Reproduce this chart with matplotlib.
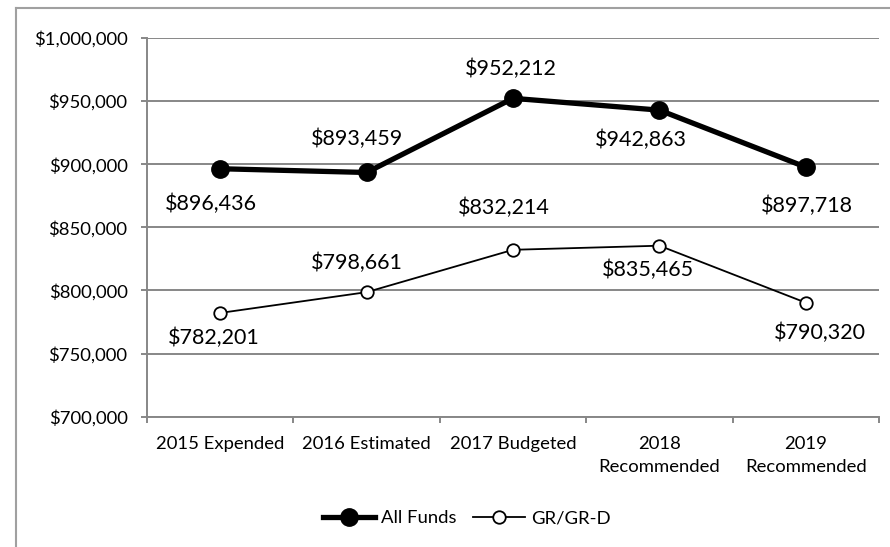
import matplotlib
matplotlib.use('Agg')
import matplotlib.pyplot as plt
from matplotlib.lines import Line2D
from matplotlib.ticker import FuncFormatter

plt.rcParams['font.family'] = ['Lato', 'DejaVu Sans']

categories = ['2015 Expended', '2016 Estimated', '2017 Budgeted',
              '2018\nRecommended', '2019\nRecommended']
all_funds = [896436, 893459, 952212, 942863, 897718]
gr_grd = [782201, 798661, 832214, 835465, 790320]

# label offsets in pixels (dx, dy) relative to each point
all_funds_offsets = [(-9, -35), (-10, 34), (-2, 29), (-18, -30), (1, -39)]
gr_grd_offsets = [(-6, -25), (-10, 29), (-9, 42), (-11, -24), (14, -30)]

W, H = 890, 547
fig = plt.figure(figsize=(W / 100, H / 100), dpi=100)
ax = fig.add_axes([147 / W, 1 - 416.7 / H, (879 - 147) / W, (416.7 - 38) / H])

grid_color = '#878787'
x = list(range(len(categories)))

ax.plot(x, all_funds, color='black', linewidth=3.8, marker='o',
        markersize=12.5, label='All Funds', zorder=3)
ax.plot(x, gr_grd, color='black', linewidth=1.3, marker='o', markersize=9,
        markerfacecolor='white', markeredgewidth=1.3, label='GR/GR-D', zorder=3)

px = 0.72
for xi, v, (dx, dy) in zip(x, all_funds, all_funds_offsets):
    ax.annotate('${:,}'.format(v), (xi, v), xytext=(dx * px, dy * px),
                textcoords='offset points', ha='center', va='center', fontsize=15.5)
for xi, v, (dx, dy) in zip(x, gr_grd, gr_grd_offsets):
    ax.annotate('${:,}'.format(v), (xi, v), xytext=(dx * px, dy * px),
                textcoords='offset points', ha='center', va='center', fontsize=15.5)

ax.set_xlim(-0.5, len(categories) - 0.5)
ax.set_ylim(700000, 1000000)
ax.set_yticks(range(700000, 1000001, 50000))
ax.yaxis.set_major_formatter(FuncFormatter(lambda v, p: '${:,.0f}'.format(v)))
ax.grid(axis='y', color=grid_color, linewidth=1.4, zorder=0)
ax.set_axisbelow(True)

ax.set_xticks(x)
ax.set_xticklabels(categories, fontsize=13.3, linespacing=1.55)
ax.set_xticks([i - 0.5 for i in range(len(categories) + 1)], minor=True)
ax.tick_params(axis='x', which='major', length=0, pad=14)
ax.tick_params(axis='x', which='minor', length=4.5, width=1.4, color=grid_color)
ax.tick_params(axis='y', length=4, width=1.4, color=grid_color, labelsize=13.3, pad=10)

for s in ['top', 'right']:
    ax.spines[s].set_visible(False)
for s in ['left', 'bottom']:
    ax.spines[s].set_color(grid_color)
    ax.spines[s].set_linewidth(1.4)

fig.legend(loc='center', bbox_to_anchor=(467 / W, 1 - 518 / H), ncol=2,
           frameon=False, fontsize=13.3, handlelength=2.8, handletextpad=0.35,
           columnspacing=0.9)

# outer chart border (cropped screenshot)
border = '#a0a0a0'
fig.add_artist(Line2D([16 / W, 1], [1 - 8 / H, 1 - 8 / H], color=border, linewidth=1.5))
fig.add_artist(Line2D([16 / W, 16 / W], [0, 1 - 8 / H], color=border, linewidth=1.5))

fig.savefig('out.png', dpi=100)
